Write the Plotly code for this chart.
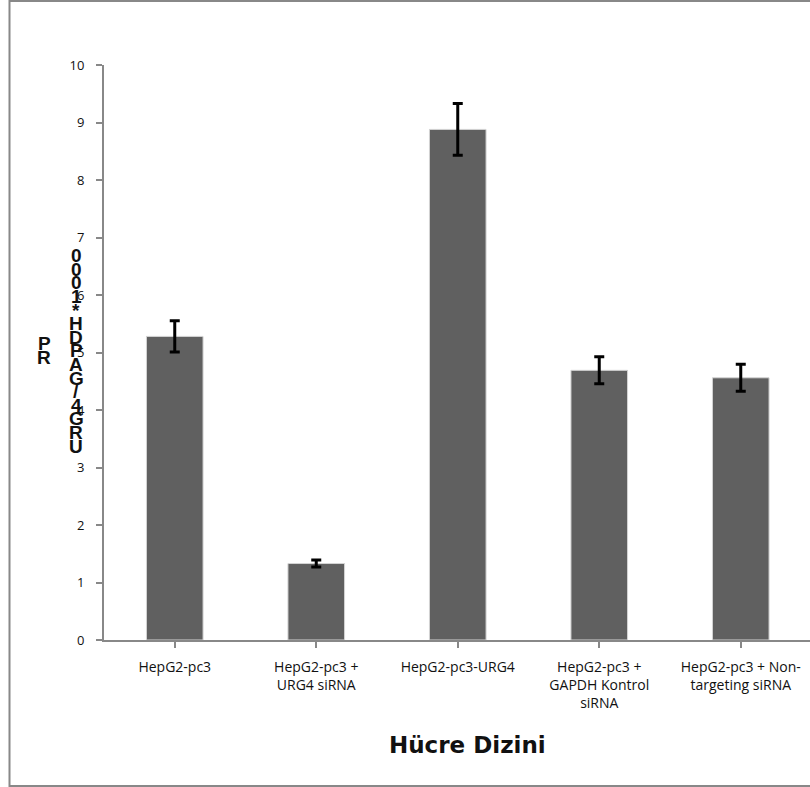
import plotly.graph_objects as go

# Cell lines and measured expression (mean +/- error)
categories = [
    "HepG2-pc3",
    "HepG2-pc3 +<br>URG4 siRNA",
    "HepG2-pc3-URG4",
    "HepG2-pc3 +<br>GAPDH Kontrol<br>siRNA",
    "HepG2-pc3 + Non-<br>targeting siRNA",
]
values = [5.28, 1.33, 8.88, 4.69, 4.56]
errors = [0.27, 0.06, 0.45, 0.235, 0.235]
y_ticks = [0, 1, 2, 3, 4, 5, 6, 7, 8, 9, 10]

x_title = "Hücre Dizini"
y_title = "URG4/GAPDH*1000"
y_prefix = "PR"

W, H = 810, 787
L, R, T, B = 104, 0, 65, 147
plot_w = W - L - R
plot_h = H - T - B
cat_w = 141.5

fig = go.Figure()
fig.add_trace(go.Bar(
    x=list(range(len(categories))),
    y=values,
    width=0.4,
    marker=dict(color="#606060", line=dict(color="#d4d4d4", width=1)),
    error_y=dict(type="data", array=errors, visible=True,
                 color="black", thickness=3, width=5),
    showlegend=False,
))

x_tick_font = dict(family="Open Sans, DejaVu Sans, sans-serif", size=14, color="#111")
y_tick_font = dict(family="Open Sans, DejaVu Sans, sans-serif", size=13, color="#111")

fig.update_layout(
    width=W, height=H,
    margin=dict(l=L, r=R, t=T, b=B, pad=0),
    paper_bgcolor="white", plot_bgcolor="white",
    xaxis=dict(
        range=[-0.5, -0.5 + plot_w / cat_w],
        tickmode="array",
        tickvals=list(range(len(categories))),
        ticktext=categories,
        tickson="boundaries",
        ticks="outside", ticklen=6, tickwidth=2, tickcolor="#888",
        showline=True, linecolor="#888", linewidth=2,
        showgrid=False, zeroline=False,
        tickfont=x_tick_font,
        ticklabelstandoff=7,
    ),
    yaxis=dict(
        range=[0, 10],
        tickmode="array",
        tickvals=y_ticks,
        ticktext=[str(v) for v in y_ticks],
        ticks="outside", ticklen=6, tickwidth=2, tickcolor="#888",
        showline=True, linecolor="#888", linewidth=2,
        showgrid=False, zeroline=False,
        tickfont=y_tick_font,
        ticklabelstandoff=9,
    ),
)


def px_x(px):
    return (px - L) / plot_w


def px_y(py):
    return (T + plot_h - py) / plot_h


# x-axis title
fig.add_annotation(
    text=f"<b>{x_title}</b>",
    xref="paper", yref="paper", x=px_x(467), y=px_y(745),
    showarrow=False, xanchor="center", yanchor="middle",
    font=dict(family="DejaVu Sans, sans-serif", size=23, color="#111"),
)

# y-axis title: upright glyphs stacked from bottom to top
title_font = dict(family="Liberation Sans, Arial, sans-serif", size=19, color="#111")
step = 13.6
for i, ch in enumerate(y_title):
    fig.add_annotation(
        text=f"<b>{ch}</b>", xref="paper", yref="paper",
        x=px_x(76), y=px_y(446 - i * step),
        showarrow=False, xanchor="center", yanchor="middle",
        font=title_font,
    )
for i, ch in enumerate(y_prefix):
    fig.add_annotation(
        text=f"<b>{ch}</b>", xref="paper", yref="paper",
        x=px_x(44), y=px_y(343 + i * 14),
        showarrow=False, xanchor="center", yanchor="middle",
        font=title_font,
    )

# chart-area frame
frame = dict(color="#888", width=2)
fig.add_shape(type="line", xref="paper", yref="paper",
              x0=px_x(9.5), x1=px_x(9.5), y0=px_y(0), y1=px_y(787), line=frame)
fig.add_shape(type="line", xref="paper", yref="paper",
              x0=px_x(9.5), x1=px_x(812), y0=px_y(1), y1=px_y(1), line=frame)
fig.add_shape(type="line", xref="paper", yref="paper",
              x0=px_x(9.5), x1=px_x(812), y0=px_y(786), y1=px_y(786), line=frame)

fig.write_html("out.html")
